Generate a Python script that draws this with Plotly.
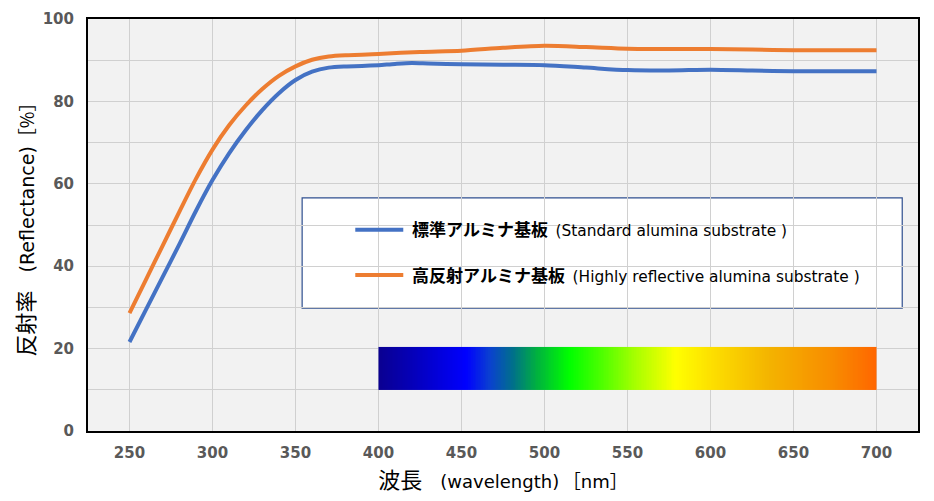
import plotly.graph_objects as go

# ---- data ----
wl_std = [250, 260, 270, 280, 290, 300, 310, 320, 330, 340, 350, 360, 370, 380, 390,
          400, 410, 420, 430, 450, 475, 500, 525, 550, 575, 600, 625, 650, 675, 700]
refl_std = [21.6, 29.5, 37.4, 45.3, 53.4, 60.9, 67.4, 73.0, 77.9, 82.0, 85.2, 87.2, 88.2, 88.5, 88.6,
            88.8, 89.1, 89.3, 89.2, 89.0, 88.9, 88.8, 88.2, 87.6, 87.5, 87.7, 87.5, 87.3, 87.3, 87.3]

wl_hi = [250, 260, 270, 280, 290, 300, 310, 320, 330, 340, 350, 360, 370, 380, 390,
         400, 425, 450, 475, 500, 525, 550, 575, 600, 625, 650, 675, 700]
refl_hi = [28.6, 36.8, 45.0, 53.2, 61.2, 68.3, 74.2, 79.0, 83.0, 86.2, 88.5, 90.1, 90.9, 91.2, 91.3,
           91.5, 92.0, 92.3, 93.0, 93.5, 93.2, 92.8, 92.7, 92.7, 92.6, 92.4, 92.4, 92.4]

latin = "font-family:DejaVu Sans"
name_std = ("\u00a0<b>標準アルミナ基板</b>\u00a0\u00a0<span style='" + latin + ";font-size:15.4px'>"
            "(Standard alumina substrate )</span>")
name_hi = ("\u00a0<b>高反射アルミナ基板</b>\u00a0\u00a0<span style='" + latin + ";font-size:15.4px'>"
           "(Highly reflective alumina substrate )</span>")

# spectrum band (visible-light colour strip)
band_wl = [400, 420, 453, 467, 481, 495, 515, 535, 555, 579, 600, 635, 675, 700]
band_colors = ["#0a0090", "#0500b8", "#0000ff", "#0a40d0", "#00708a", "#00b040", "#00ff00",
               "#50ff00", "#a8ff00", "#ffff00", "#fde000", "#f4b400", "#f88a00", "#ff6600"]
band_y = [10, 20.4]

x_ticks = [250, 300, 350, 400, 450, 500, 550, 600, 650, 700]
y_ticks = [0, 20, 40, 60, 80, 100]

# ---- figure ----
wmin, wmax = band_wl[0], band_wl[-1]
cscale = [[(w - wmin) / (wmax - wmin), c] for w, c in zip(band_wl, band_colors)]
n = 300
edges = [wmin + (wmax - wmin) * i / n for i in range(n + 1)]
centers = [(edges[i] + edges[i + 1]) / 2 for i in range(n)]

fig = go.Figure()
fig.add_trace(go.Heatmap(x=edges, y=band_y, z=[centers], colorscale=cscale,
                         zmin=wmin, zmax=wmax, showscale=False, hoverinfo="skip",
                         showlegend=False))
fig.add_trace(go.Scatter(x=wl_std, y=refl_std, mode="lines", name=name_std,
                         line=dict(color="#4472c4", width=4, shape="spline", smoothing=0.8),
                         legendgroup="a"))
fig.add_trace(go.Scatter(x=wl_hi, y=refl_hi, mode="lines", name=name_hi,
                         line=dict(color="#ed7d31", width=4, shape="spline", smoothing=0.8),
                         legendgroup="b"))

tick_font = dict(family="DejaVu Sans", size=15, color="#595959", weight="bold")

x_title = ("<span style='font-size:22px'>波長</span>\u3000"
           f"<span style='{latin}'>(wavelength)</span>\u2009［<span style='{latin}'>nm</span>］\u3000\u2009")
y_title = ("<span style='font-size:22px'>反射率</span>\u2002\u2002"
           f"<span style='{latin};font-size:19px'>(Reflectance)</span>［%］\u3000\u3000\u3000\u3000")

fig.update_layout(
    width=934, height=501,
    margin=dict(l=80, r=24, t=11, b=78, autoexpand=False),
    paper_bgcolor="white",
    plot_bgcolor="#f2f2f2",
    font=dict(family="Noto Sans CJK JP, Noto Sans", color="black"),
    showlegend=True,
    legend=dict(x=0.316, y=0.531, xanchor="left", yanchor="top",
                bgcolor="rgba(0,0,0,0)", borderwidth=0, itemwidth=48,
                font=dict(family="Noto Sans CJK JP", size=17, color="black"),
                traceorder="grouped", tracegroupgap=20),
    xaxis=dict(range=[225, 725], tickvals=x_ticks, showgrid=True, gridcolor="#d0d0d0",
               gridwidth=1, zeroline=False, showline=True, linecolor="black", linewidth=2,
               mirror=True, ticks="", tickfont=tick_font, ticklabelstandoff=7, automargin=False,
               title=dict(text=x_title,
                          font=dict(family="Noto Sans CJK JP", size=18, color="black"),
                          standoff=9)),
    yaxis=dict(range=[0, 100], tickvals=y_ticks, showgrid=True, gridcolor="#d0d0d0",
               gridwidth=1, zeroline=False, showline=True, linecolor="black", linewidth=2,
               mirror=True, ticks="", tickfont=tick_font, ticklabelstandoff=9, automargin=False,
               minor=dict(dtick=10, showgrid=True, gridcolor="#d0d0d0", gridwidth=1),
               title=dict(text=y_title,
                          font=dict(family="Noto Sans CJK JP", size=18, color="black"),
                          standoff=10)),
    shapes=[dict(type="rect", xref="paper", yref="paper", x0=0.258, x1=0.981, y0=0.298, y1=0.566,
                 fillcolor="white", line=dict(color="#2f4f8f", width=1.2), layer="between")],
)

fig.write_html("out.html")
